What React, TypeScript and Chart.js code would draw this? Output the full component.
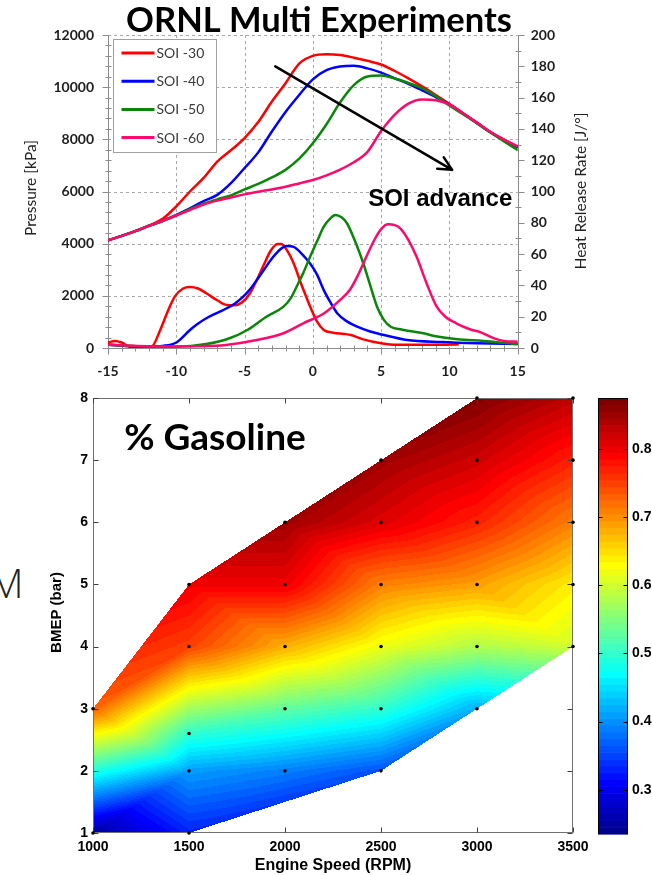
import React, { useEffect, useRef } from 'react';
import { Chart, registerables } from 'chart.js';

Chart.register(...registerables);

// ---------------- Top chart data (ORNL Multi Experiments) ----------------
const crankAngle = [-15, -14, -13, -12, -11, -10, -9, -8, -7, -6, -5, -4, -3, -2, -1, 0, 1, 2, 3, 4, 5, 6, 7, 8, 9, 10, 11, 12, 13, 14, 15];
const pressureSOI30 = [4127, 4300, 4480, 4700, 4950, 5430, 6000, 6520, 7150, 7580, 8050, 8660, 9450, 10150, 10900, 11200, 11260, 11230, 11130, 11010, 10870, 10620, 10340, 10030, 9700, 9360, 9000, 8640, 8280, 7990, 7720];
const pressureSOI40 = [4127, 4300, 4480, 4680, 4870, 5100, 5350, 5630, 5870, 6320, 6900, 7500, 8300, 9050, 9700, 10300, 10650, 10790, 10820, 10720, 10560, 10340, 10130, 9880, 9620, 9330, 8990, 8630, 8270, 7960, 7700];
const pressureSOI50 = [4127, 4300, 4480, 4680, 4870, 5080, 5320, 5530, 5700, 5850, 6080, 6290, 6540, 6830, 7260, 7850, 8580, 9420, 10080, 10410, 10450, 10330, 10160, 9960, 9650, 9300, 8960, 8620, 8260, 7920, 7590];
const pressureSOI60 = [4127, 4300, 4480, 4680, 4880, 5080, 5290, 5500, 5650, 5770, 5890, 5990, 6080, 6180, 6310, 6440, 6620, 6840, 7120, 7520, 8320, 8950, 9370, 9530, 9500, 9340, 9000, 8650, 8290, 7990, 7730];

const hrrSOI30CA = [-15, -14.5, -14, -13.4, -12.5, -11.8, -11.2, -10.6, -10.1, -9.5, -9, -8.4, -7.8, -7, -6.3, -5.7, -5.2, -4.6, -4.1, -3.6, -3.1, -2.6, -2.3, -1.9, -1.4, -0.9, -0.5, -0.2, 0.3, 0.8, 1.5, 2.3, 2.8, 3.7, 5, 6.2, 8, 10.6];
const hrrSOI30 = [3.5, 4.5, 3.5, 0.8, 0.2, 0.8, 11, 24, 33, 38, 39, 38, 35, 30.5, 27.5, 27.3, 29, 35, 43.5, 53, 62, 66.5, 66.5, 62.5, 54, 42, 33, 26.5, 17, 11.5, 9.8, 9, 8.3, 5.5, 3, 2, 2, 2.2];
const hrrSOI40CA = [-15, -13, -12, -11, -10, -9, -8.5, -7.8, -7, -6.3, -5.7, -5.1, -4.6, -4.1, -3.5, -2.9, -2.4, -1.9, -1.4, -0.9, -0.2, 0.3, 0.8, 1.3, 1.8, 2.5, 3.25, 4.2, 5.2, 6.9, 9.4, 12, 15];
const hrrSOI40 = [2, 1, 0.8, 1.3, 3.5, 11.5, 15, 19, 22.5, 25.4, 28.5, 32.8, 37.5, 43.5, 51, 58.3, 63, 65.2, 64.6, 61, 54, 47, 37, 29, 22, 17, 13.6, 10.5, 8.3, 5.1, 3.8, 3, 2.5];
const hrrSOI50CA = [-15, -12, -10, -7.8, -6.1, -4.8, -3.4, -2.15, -1.6, -1.2, -0.7, -0.2, 0.3, 0.8, 1.3, 1.65, 2.1, 2.5, 3.1, 3.7, 4.2, 4.7, 5.2, 5.7, 6.5, 8.1, 9, 10.6, 12.5, 15];
const hrrSOI50 = [2, 1, 0.8, 2.5, 6.2, 11.5, 20, 26.4, 32, 39, 48, 58.3, 68, 77.5, 83, 85, 83.5, 79.7, 68, 54, 40, 26.4, 18, 13.6, 11.8, 9.4, 7.5, 5.6, 4.5, 2.5];
const hrrSOI60CA = [-15, -11, -8, -6.5, -4.1, -2.15, -0.7, 0.8, 2, 2.7, 3.25, 3.9, 4.5, 5, 5.5, 6, 6.4, 7, 7.6, 8.3, 9.07, 9.7, 10.5, 11.5, 12.3, 13.4, 14, 15];
const hrrSOI60 = [2, 1, 1.2, 1.8, 5.1, 9.4, 15.8, 22, 30.7, 37, 45.6, 58, 69, 76, 79, 78.5, 76.5, 69, 58.3, 42, 26.4, 20, 15.8, 12, 10, 5.8, 4.5, 4];

const seriesLabels = ['SOI -30', 'SOI -40', 'SOI -50', 'SOI -60'];
const seriesColors = ['#ff0000', '#0000ff', '#0a870a', '#ff0a6c'];
const caTicks = [-15, -10, -5, 0, 5, 10, 15];
const pressureTicks = [0, 2000, 4000, 6000, 8000, 10000, 12000];
const hrrTicks = [0, 20, 40, 60, 80, 100, 120, 140, 160, 180, 200];
const topTitle = 'ORNL Multi Experiments';
const pressureTitle = 'Pressure [kPa]';
const hrrTitle = 'Heat Release Rate [J/°]';
const arrowStart = [-2.75, 10800];
const arrowEnd = [10.2, 6830];
const arrowText = 'SOI advance';
const arrowTextPos = [4.05, 5455];

// ---------------- Bottom chart data (% Gasoline map) ----------------
const engineSpeed = [1000, 1000, 1500, 1500, 1500, 1500, 1500, 2000, 2000, 2000, 2000, 2000, 2500, 2500, 2500, 2500, 2500, 2500, 3000, 3000, 3000, 3000, 3000, 3000, 3500, 3500, 3500, 3500, 3500];
const bmep = [1, 3, 1, 2, 2.6, 4, 5, 2, 3, 4, 5, 6, 2, 3, 4, 5, 6, 7, 3, 4, 5, 6, 7, 8, 4, 5, 6, 7, 8];
const gasolineFraction = [0.25, 0.73, 0.33, 0.41, 0.5, 0.75, 0.8, 0.39, 0.53, 0.68, 0.8, 0.85, 0.36, 0.5, 0.62, 0.71, 0.81, 0.85, 0.42, 0.58, 0.69, 0.77, 0.82, 0.87, 0.6, 0.64, 0.71, 0.77, 0.83];
const speedTicks = [1000, 1500, 2000, 2500, 3000, 3500];
const bmepTicks = [1, 2, 3, 4, 5, 6, 7, 8];
const colorTicks = [0.3, 0.4, 0.5, 0.6, 0.7, 0.8];
const colorMin = 0.235;
const colorMax = 0.875;
const colorLevels = 64;
const mapTitle = '% Gasoline';
const speedTitle = 'Engine Speed (RPM)';
const bmepTitle = 'BMEP (bar)';

const LATO = 'Lato, "Open Sans", sans-serif';
const ARIAL = '"Liberation Sans", Arial, Helvetica, sans-serif';

function pts(xs: number[], ys: number[]) {
  return xs.map((x, i) => ({ x, y: ys[i] }));
}

function jetMap(m: number): number[][] {
  const n = Math.ceil(m / 4);
  const u: number[] = [];
  for (let i = 1; i <= n; i++) u.push(i / n);
  for (let i = 0; i < n - 1; i++) u.push(1);
  for (let i = n; i >= 1; i--) u.push(i / n);
  const off = Math.ceil(n / 2) - (m % 4 === 1 ? 1 : 0);
  const out = Array.from({ length: m }, () => [0, 0, 0]);
  for (let k = 0; k < u.length; k++) {
    const g = off + k + 1;
    const r = g + n;
    const b = g - n;
    if (g >= 1 && g <= m) out[g - 1][1] = u[k];
    if (r >= 1 && r <= m) out[r - 1][0] = u[k];
    if (b >= 1 && b <= m) out[b - 1][2] = u[k];
  }
  return out;
}
const JET = jetMap(colorLevels);

function levelIndex(v: number) {
  const t = (v - colorMin) / (colorMax - colorMin);
  return Math.max(0, Math.min(colorLevels - 1, Math.floor(t * colorLevels)));
}

function delaunay(xs: number[], ys: number[]): number[][] {
  const n = xs.length;
  const P: number[][] = xs.map((x, i) => [x, ys[i]]);
  const minX = Math.min(...xs), maxX = Math.max(...xs), minY = Math.min(...ys), maxY = Math.max(...ys);
  const d = Math.max(maxX - minX, maxY - minY) * 200;
  const mx = (minX + maxX) / 2, my = (minY + maxY) / 2;
  P.push([mx - 2 * d, my - d], [mx, my + 2 * d], [mx + 2 * d, my - d]);
  const make = (a: number, b: number, c: number) => {
    const [ax, ay] = P[a], [bx, by] = P[b], [cx, cy] = P[c];
    const D = 2 * (ax * (by - cy) + bx * (cy - ay) + cx * (ay - by));
    if (Math.abs(D) < 1e-12) return { v: [a, b, c], cx: 0, cy: 0, r2: Infinity };
    const a2 = ax * ax + ay * ay, b2 = bx * bx + by * by, c2 = cx * cx + cy * cy;
    const ux = (a2 * (by - cy) + b2 * (cy - ay) + c2 * (ay - by)) / D;
    const uy = (a2 * (cx - bx) + b2 * (ax - cx) + c2 * (bx - ax)) / D;
    return { v: [a, b, c], cx: ux, cy: uy, r2: (ax - ux) ** 2 + (ay - uy) ** 2 };
  };
  let tris = [make(n, n + 1, n + 2)];
  for (let i = 0; i < n; i++) {
    const [x, y] = P[i];
    const bad: any[] = [];
    const keep: any[] = [];
    for (const t of tris) {
      const dd = (x - t.cx) ** 2 + (y - t.cy) ** 2;
      if (dd < t.r2 * (1 - 1e-10)) bad.push(t); else keep.push(t);
    }
    const edges = new Map<string, number[]>();
    for (const t of bad) {
      const [a, b, c] = t.v;
      for (const [p, q] of [[a, b], [b, c], [c, a]]) {
        const key = p < q ? p + '_' + q : q + '_' + p;
        if (edges.has(key)) edges.delete(key); else edges.set(key, [p, q]);
      }
    }
    tris = keep;
    for (const [p, q] of edges.values()) tris.push(make(p, q, i));
  }
  return tris.filter((t) => t.v.every((k) => k < n)).map((t) => t.v);
}

// ---------------- Plugins ----------------
const topDecor = {
  id: 'topDecor',
  beforeDatasetsDraw(chart: any) {
    const { ctx, chartArea: a, scales } = chart;
    const sx = scales.x, sy = scales.y, sy2 = scales.y2;
    ctx.save();
    ctx.lineWidth = 1;
    ctx.strokeStyle = '#a8a8a8';
    ctx.setLineDash([3, 3]);
    ctx.beginPath();
    for (const v of caTicks) {
      const p = Math.round(sx.getPixelForValue(v)) + 0.5;
      if (p < a.left + 2 || p > a.right - 2) continue;
      ctx.moveTo(p, a.top);
      ctx.lineTo(p, a.bottom);
    }
    for (const v of pressureTicks) {
      const p = Math.round(sy.getPixelForValue(v)) + 0.5;
      if (p > a.bottom - 2) continue;
      ctx.moveTo(a.left, p);
      ctx.lineTo(a.right, p);
    }
    ctx.stroke();
    ctx.setLineDash([]);
    ctx.strokeStyle = '#8c8c8c';
    const L = Math.round(a.left) + 0.5, R = Math.round(a.right) + 0.5, B = Math.round(a.bottom) + 0.5;
    ctx.beginPath();
    ctx.moveTo(L, a.top);
    ctx.lineTo(L, B);
    ctx.lineTo(R, B);
    ctx.lineTo(R, a.top);
    for (let v = sy.min; v <= sy.max; v += 400) {
      const p = Math.round(sy.getPixelForValue(v)) + 0.5;
      const major = v % 2000 === 0;
      ctx.moveTo(major ? L - 6 : L - 3, p);
      ctx.lineTo(major ? L : L + 3, p);
    }
    for (let v = sy2.min; v <= sy2.max; v += 10) {
      const p = Math.round(sy2.getPixelForValue(v)) + 0.5;
      const major = v % 20 === 0;
      ctx.moveTo(major ? R + 6 : R + 3, p);
      ctx.lineTo(major ? R : R - 3, p);
    }
    for (let v = sx.min; v <= sx.max; v += 1) {
      const p = Math.round(sx.getPixelForValue(v)) + 0.5;
      const major = v % 5 === 0;
      ctx.moveTo(p, major ? B + 6 : B + 3);
      ctx.lineTo(p, major ? B : B - 3);
    }
    ctx.stroke();
    ctx.restore();
  },
  afterDatasetsDraw(chart: any) {
    const { ctx, chartArea: a, scales } = chart;
    const sx = scales.x, sy = scales.y;
    ctx.save();
    // legend
    const lx = a.left + 5, ly = a.top + 4, lw = 103, lh = 113;
    ctx.fillStyle = '#ffffff';
    ctx.fillRect(lx, ly, lw, lh);
    ctx.strokeStyle = '#a0a0a0';
    ctx.lineWidth = 1;
    ctx.strokeRect(Math.round(lx) + 0.5, Math.round(ly) + 0.5, lw, lh);
    ctx.font = `14px ${LATO}`;
    ctx.textBaseline = 'middle';
    ctx.textAlign = 'left';
    seriesLabels.forEach((lab, i) => {
      const yy = ly + 14 + i * 28.2;
      ctx.strokeStyle = seriesColors[i];
      ctx.lineWidth = 3;
      ctx.beginPath();
      ctx.moveTo(lx + 8.5, yy);
      ctx.lineTo(lx + 41.5, yy);
      ctx.stroke();
      ctx.fillStyle = '#3a3a3a';
      ctx.fillText(lab, lx + 43.5, yy + 0.5);
    });
    // arrow
    const x0 = sx.getPixelForValue(arrowStart[0]), y0 = sy.getPixelForValue(arrowStart[1]);
    const x1 = sx.getPixelForValue(arrowEnd[0]), y1 = sy.getPixelForValue(arrowEnd[1]);
    const ang = Math.atan2(y1 - y0, x1 - x0);
    ctx.strokeStyle = '#000';
    ctx.lineWidth = 2.5;
    ctx.lineCap = 'round';
    ctx.lineJoin = 'round';
    ctx.beginPath();
    ctx.moveTo(x0, y0);
    ctx.lineTo(x1, y1);
    for (const s of [-1, 1]) {
      ctx.moveTo(x1, y1);
      ctx.lineTo(x1 - 15 * Math.cos(ang + s * 0.45), y1 - 15 * Math.sin(ang + s * 0.45));
    }
    ctx.stroke();
    ctx.fillStyle = '#000';
    ctx.font = `bold 24px ${ARIAL}`;
    ctx.textBaseline = 'alphabetic';
    ctx.fillText(arrowText, sx.getPixelForValue(arrowTextPos[0]), sy.getPixelForValue(arrowTextPos[1]));
    // title
    ctx.font = `bold 34.5px ${LATO}`;
    ctx.textAlign = 'center';
    ctx.fillText(topTitle, 319, 32);
    // axis titles
    ctx.font = `15.5px ${LATO}`;
    ctx.fillStyle = '#222';
    ctx.textBaseline = 'middle';
    ctx.translate(31, 188);
    ctx.rotate(-Math.PI / 2);
    ctx.fillText(pressureTitle, 0, 0);
    ctx.setTransform(1, 0, 0, 1, 0, 0);
    ctx.translate(581, 191);
    ctx.rotate(-Math.PI / 2);
    ctx.fillText(hrrTitle, 0, 0);
    ctx.restore();
  },
};

const fieldPlugin = {
  id: 'fieldPlugin',
  beforeDatasetsDraw(chart: any) {
    const { ctx, chartArea: a, scales } = chart;
    const sx = scales.x, sy = scales.y;
    const px = engineSpeed.map((v) => sx.getPixelForValue(v) - a.left);
    const py = bmep.map((v) => sy.getPixelForValue(v) - a.top);
    const tris = delaunay(px, py);
    const W = Math.round(a.right - a.left), H = Math.round(a.bottom - a.top);
    const off = document.createElement('canvas');
    off.width = W;
    off.height = H;
    const octx = off.getContext('2d')!;
    const img = octx.createImageData(W, H);
    const g = gasolineFraction;
    for (const [i, j, k] of tris) {
      const x1 = px[i], y1 = py[i], x2 = px[j], y2 = py[j], x3 = px[k], y3 = py[k];
      const det = (y2 - y3) * (x1 - x3) + (x3 - x2) * (y1 - y3);
      if (Math.abs(det) < 1e-9) continue;
      const xa = Math.max(0, Math.floor(Math.min(x1, x2, x3)));
      const xb = Math.min(W - 1, Math.ceil(Math.max(x1, x2, x3)));
      const ya = Math.max(0, Math.floor(Math.min(y1, y2, y3)));
      const yb = Math.min(H - 1, Math.ceil(Math.max(y1, y2, y3)));
      for (let yy = ya; yy <= yb; yy++) {
        const cy = yy + 0.5;
        for (let xx = xa; xx <= xb; xx++) {
          const cx = xx + 0.5;
          const l1 = ((y2 - y3) * (cx - x3) + (x3 - x2) * (cy - y3)) / det;
          const l2 = ((y3 - y1) * (cx - x3) + (x1 - x3) * (cy - y3)) / det;
          const l3 = 1 - l1 - l2;
          if (l1 < -1e-6 || l2 < -1e-6 || l3 < -1e-6) continue;
          const v = l1 * g[i] + l2 * g[j] + l3 * g[k];
          const c = JET[levelIndex(v)];
          const o = (yy * W + xx) * 4;
          img.data[o] = Math.round(c[0] * 255);
          img.data[o + 1] = Math.round(c[1] * 255);
          img.data[o + 2] = Math.round(c[2] * 255);
          img.data[o + 3] = 255;
        }
      }
    }
    octx.putImageData(img, 0, 0);
    ctx.save();
    ctx.drawImage(off, a.left, a.top);
    // box + inward ticks
    const L = Math.round(a.left) + 0.5, R = Math.round(a.right) - 0.5, T = Math.round(a.top) + 0.5, B = Math.round(a.bottom) - 0.5;
    ctx.strokeStyle = '#707070';
    ctx.lineWidth = 1;
    ctx.strokeRect(L, T, R - L, B - T);
    ctx.strokeStyle = '#404040';
    ctx.beginPath();
    for (const v of speedTicks) {
      const p = Math.round(sx.getPixelForValue(v)) + 0.5;
      ctx.moveTo(p, B);
      ctx.lineTo(p, B - 5);
      ctx.moveTo(p, T);
      ctx.lineTo(p, T + 5);
    }
    for (const v of bmepTicks) {
      const p = Math.round(sy.getPixelForValue(v)) + 0.5;
      ctx.moveTo(L, p);
      ctx.lineTo(L + 5, p);
      ctx.moveTo(R, p);
      ctx.lineTo(R - 5, p);
    }
    ctx.stroke();
    ctx.restore();
  },
  afterDraw(chart: any) {
    const { ctx, chartArea: a } = chart;
    ctx.save();
    ctx.fillStyle = '#000';
    ctx.textAlign = 'center';
    ctx.textBaseline = 'alphabetic';
    ctx.font = `bold 37px ${LATO}`;
    ctx.fillText(mapTitle, a.left + 122, a.top + 52);
    ctx.font = `bold 16px ${ARIAL}`;
    ctx.textBaseline = 'middle';
    ctx.fillText(speedTitle, (a.left + a.right) / 2, a.bottom + 33);
    ctx.font = `bold 15px ${ARIAL}`;
    ctx.translate(57, (a.top + a.bottom) / 2 - 3);
    ctx.rotate(-Math.PI / 2);
    ctx.fillText(bmepTitle, 0, 0);
    ctx.restore();
  },
};

const colorbarPlugin = {
  id: 'colorbarPlugin',
  beforeDatasetsDraw(chart: any) {
    const { ctx, chartArea: a, scales } = chart;
    const sy = scales.y;
    ctx.save();
    for (let k = 0; k < colorLevels; k++) {
      const v0 = colorMin + (k * (colorMax - colorMin)) / colorLevels;
      const v1 = colorMin + ((k + 1) * (colorMax - colorMin)) / colorLevels;
      const p0 = sy.getPixelForValue(v0), p1 = sy.getPixelForValue(v1);
      const c = JET[k];
      ctx.fillStyle = `rgb(${Math.round(c[0] * 255)},${Math.round(c[1] * 255)},${Math.round(c[2] * 255)})`;
      ctx.fillRect(a.left, p1, a.right - a.left, p0 - p1 + 0.6);
    }
    ctx.strokeStyle = '#000';
    ctx.lineWidth = 1;
    const L = Math.round(a.left) + 0.5, R = Math.round(a.right) - 0.5;
    ctx.strokeRect(L, Math.round(a.top) + 0.5, R - L, Math.round(a.bottom - a.top) - 1);
    ctx.beginPath();
    for (const v of colorTicks) {
      const p = Math.round(sy.getPixelForValue(v)) + 0.5;
      ctx.moveTo(L, p);
      ctx.lineTo(L + 4, p);
      ctx.moveTo(R, p);
      ctx.lineTo(R - 4, p);
    }
    ctx.stroke();
    ctx.restore();
  },
};

function makeTop(canvas: HTMLCanvasElement) {
  const pressure = [pressureSOI30, pressureSOI40, pressureSOI50, pressureSOI60];
  const hrr = [
    [hrrSOI30CA, hrrSOI30],
    [hrrSOI40CA, hrrSOI40],
    [hrrSOI50CA, hrrSOI50],
    [hrrSOI60CA, hrrSOI60],
  ];
  const lineBase = { borderWidth: 2.5, pointRadius: 0, fill: false, cubicInterpolationMode: 'monotone', borderJoinStyle: 'round', borderCapStyle: 'round' };
  const tickFont = { family: LATO, size: 14, weight: 'bold' };
  return new Chart(canvas, {
    type: 'line',
    data: {
      datasets: [
        ...pressure.map((s, i) => ({ ...lineBase, label: seriesLabels[i], data: pts(crankAngle, s), borderColor: seriesColors[i], yAxisID: 'y', order: 3 - i })),
        ...hrr.map(([ca, v], i) => ({ ...lineBase, label: seriesLabels[i] + ' HRR', data: pts(ca, v), borderColor: seriesColors[i], yAxisID: 'y2', order: 3 - i })),
      ],
    } as any,
    options: {
      responsive: false,
      animation: false,
      layout: { padding: { top: 35, left: 0, right: 0, bottom: 0 } },
      plugins: { legend: { display: false }, tooltip: { enabled: false }, title: { display: false } },
      scales: {
        x: {
          type: 'linear', min: -15, max: 15,
          grid: { display: false, drawTicks: false }, border: { display: false },
          afterBuildTicks: (s: any) => { s.ticks = caTicks.map((value) => ({ value })); },
          ticks: { font: tickFont, color: '#1e1e1e', padding: 15, maxRotation: 0, autoSkip: false, callback: (v: any) => String(v) },
          afterFit: (s: any) => { s.height = 32; },
        },
        y: {
          type: 'linear', position: 'left', min: 0, max: 12000,
          grid: { display: false, drawTicks: false }, border: { display: false },
          afterBuildTicks: (s: any) => { s.ticks = pressureTicks.map((value) => ({ value })); },
          ticks: { font: tickFont, color: '#1e1e1e', padding: 14, callback: (v: any) => String(v) },
          afterFit: (s: any) => { s.width = 108; },
        },
        y2: {
          type: 'linear', position: 'right', min: 0, max: 200,
          grid: { display: false, drawTicks: false }, border: { display: false },
          afterBuildTicks: (s: any) => { s.ticks = hrrTicks.map((value) => ({ value })); },
          ticks: { font: tickFont, color: '#1e1e1e', padding: 13, callback: (v: any) => String(v) },
          afterFit: (s: any) => { s.width = 134.3; },
        },
      },
    } as any,
    plugins: [topDecor],
  });
}

function makeBottom(canvas: HTMLCanvasElement) {
  const tickFont = { family: ARIAL, size: 14, weight: 'bold' };
  return new Chart(canvas, {
    type: 'scatter',
    data: {
      datasets: [
        { label: 'Test points', data: pts(engineSpeed, bmep), pointRadius: 1.8, pointBackgroundColor: '#000', pointBorderWidth: 0, clip: false } as any,
      ],
    },
    options: {
      responsive: false,
      animation: false,
      layout: { padding: { top: 18, left: 0, right: 27, bottom: 0 } },
      plugins: { legend: { display: false }, tooltip: { enabled: false } },
      scales: {
        x: {
          type: 'linear', min: 1000, max: 3500,
          grid: { display: false, drawTicks: false }, border: { display: false },
          afterBuildTicks: (s: any) => { s.ticks = speedTicks.map((value) => ({ value })); },
          ticks: { font: tickFont, color: '#000', padding: 6, maxRotation: 0, autoSkip: false, callback: (v: any) => String(v) },
          afterFit: (s: any) => { s.height = 42; },
        },
        y: {
          type: 'linear', min: 1, max: 8,
          grid: { display: false, drawTicks: false }, border: { display: false },
          afterBuildTicks: (s: any) => { s.ticks = bmepTicks.map((value) => ({ value })); },
          ticks: { font: tickFont, color: '#000', padding: 5, callback: (v: any) => String(v) },
          afterFit: (s: any) => { s.width = 93; },
        },
      },
    } as any,
    plugins: [fieldPlugin],
  });
}

function makeColorbar(canvas: HTMLCanvasElement) {
  return new Chart(canvas, {
    type: 'scatter',
    data: { datasets: [{ label: 'colorbar', data: [] }] },
    options: {
      responsive: false,
      animation: false,
      layout: { padding: { top: 18, left: 13, right: 0, bottom: 41 } },
      plugins: { legend: { display: false }, tooltip: { enabled: false } },
      scales: {
        x: { type: 'linear', display: false, min: 0, max: 1 },
        y: {
          type: 'linear', position: 'right', min: colorMin, max: colorMax,
          grid: { display: false, drawTicks: false }, border: { display: false },
          afterBuildTicks: (s: any) => { s.ticks = colorTicks.map((value) => ({ value })); },
          ticks: { font: { family: ARIAL, size: 14, weight: 'bold' }, color: '#000', padding: 4, callback: (v: any) => Number(v).toFixed(1) },
          afterFit: (s: any) => { s.width = 24; },
        },
      },
    } as any,
    plugins: [colorbarPlugin],
  });
}

export default function App() {
  const topRef = useRef<HTMLCanvasElement>(null);
  const botRef = useRef<HTMLCanvasElement>(null);
  const cbRef = useRef<HTMLCanvasElement>(null);
  useEffect(() => {
    const charts = [makeTop(topRef.current!), makeBottom(botRef.current!), makeColorbar(cbRef.current!)];
    return () => charts.forEach((c) => c.destroy());
  }, []);
  return (
    <div style={{ position: 'absolute', left: 0, top: 0, width: 652, height: 875, background: '#fff', overflow: 'hidden' }}>
      <div style={{ position: 'absolute', left: -11, top: 556, fontFamily: '"Open Sans", sans-serif', fontWeight: 300, fontSize: 40, lineHeight: '54px', color: '#222' }}>M</div>
      <canvas ref={topRef} width={652} height={380} style={{ position: 'absolute', left: 0, top: 0 }} />
      <canvas ref={botRef} width={600} height={495} style={{ position: 'absolute', left: 0, top: 380 }} />
      <canvas ref={cbRef} width={67} height={495} style={{ position: 'absolute', left: 585, top: 380 }} />
    </div>
  );
}
